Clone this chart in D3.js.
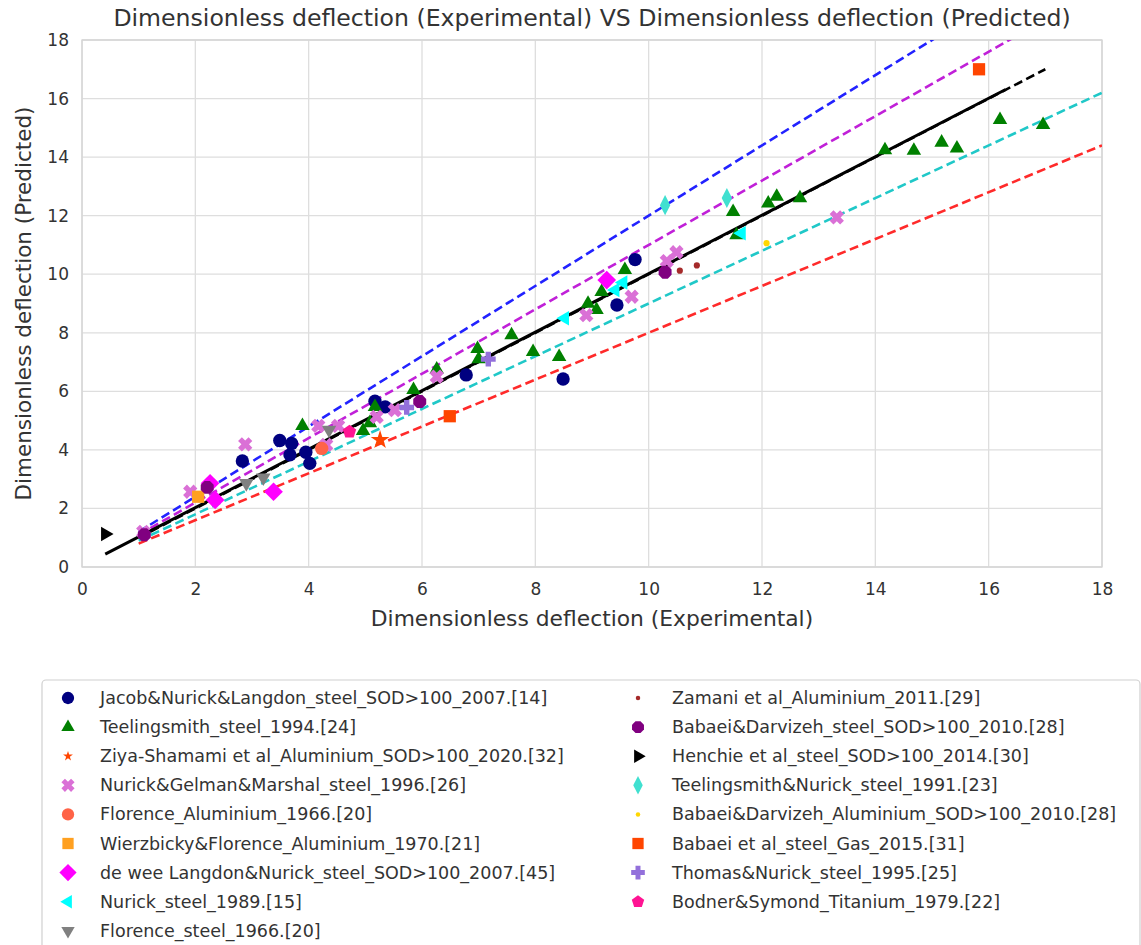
<!DOCTYPE html>
<html>
<head>
<meta charset="utf-8">
<script src="https://cdn.jsdelivr.net/npm/d3@7"></script>
<style>
  body { margin:0; background:#fff; }
  svg text { font-family:"DejaVu Sans", sans-serif; fill:#333; }
</style>
</head>
<body>
<div id="chart"></div>
<script>

// ---- data : [experimental, predicted] ----
var jacob = [[2.83,3.62],[3.49,4.32],[3.70,4.22],[3.67,3.83],[3.95,3.92],[4.02,3.54],
             [5.17,5.66],[5.35,5.47],[6.78,6.56],[8.49,6.42],[9.44,8.95],[9.76,10.5]];
var teeling94 = [[3.89,4.82],[4.96,4.65],[5.08,4.92],[5.17,5.47],[5.85,6.05],[6.26,6.75],
             [6.98,7.45],[7.0,7.1],[7.58,7.92],[7.96,7.35],[8.42,7.18],[8.93,9.0],[9.08,8.78],
             [9.17,9.4],[9.58,10.15],[11.49,12.13],[11.55,11.34],[12.11,12.42],[12.26,12.65],
             [12.67,12.6],[14.17,14.24],[14.68,14.22],[15.17,14.5],[15.44,14.3],[16.2,15.27],[16.96,15.1]];
var ziya = [[5.26,4.34]];
var nurickGelman = [[1.08,1.2],[1.91,2.57],[2.88,4.19],[4.17,4.82],[4.31,4.17],[4.52,4.82],
             [5.2,5.13],[5.52,5.36],[6.26,6.5],[8.9,8.6],[9.7,9.23],[10.32,10.45],[10.49,10.75],[13.32,11.94]];
var florenceAl = [[4.23,4.05]];
var wierzbicky = [[2.05,2.4]];
var deWee = [[2.26,2.86],[2.35,2.29],[3.38,2.57],[9.26,9.8]];
var nurick89 = [[8.52,8.5],[9.41,9.46],[9.55,9.72],[11.64,11.4]];
var florenceSteel = [[2.9,2.86],[3.2,3.05],[4.36,4.68]];
var zamani = [[10.55,10.12],[10.85,10.3]];
var babaeiSteel = [[1.1,1.1],[2.21,2.72],[5.96,5.65],[10.29,10.07]];
var henchie = [[0.41,1.13]];
var teeling91 = [[10.29,12.36],[11.38,12.6]];
var babaeiAl = [[12.08,11.06]];
var babaeiGas = [[6.49,5.15],[15.83,17.0]];
var thomas = [[5.73,5.45],[7.17,7.1]];
var bodner = [[4.72,4.62]];

var seriesNames = [
  "Jacob&Nurick&Langdon_steel_SOD>100_2007.[14]",
  "Teelingsmith_steel_1994.[24]",
  "Ziya-Shamami et al_Aluminium_SOD>100_2020.[32]",
  "Nurick&Gelman&Marshal_steel_1996.[26]",
  "Florence_Aluminium_1966.[20]",
  "Wierzbicky&Florence_Aluminium_1970.[21]",
  "de wee Langdon&Nurick_steel_SOD>100_2007.[45]",
  "Nurick_steel_1989.[15]",
  "Florence_steel_1966.[20]",
  "Zamani et al_Aluminium_2011.[29]",
  "Babaei&Darvizeh_steel_SOD>100_2010.[28]",
  "Henchie et al_steel_SOD>100_2014.[30]",
  "Teelingsmith&Nurick_steel_1991.[23]",
  "Babaei&Darvizeh_Aluminium_SOD>100_2010.[28]",
  "Babaei et al_steel_Gas_2015.[31]",
  "Thomas&Nurick_steel_1995.[25]",
  "Bodner&Symond_Titanium_1979.[22]"
];
var seriesData = [jacob, teeling94, ziya, nurickGelman, florenceAl, wierzbicky, deWee, nurick89,
  florenceSteel, zamani, babaeiSteel, henchie, teeling91, babaeiAl, babaeiGas, thomas, bodner];

// reference lines (end points)
var blueLine    = [[1,1.2],[18,21.6]];
var magentaLine = [[1,1.1],[18,19.8]];
var cyanLine    = [[1,0.9],[18,16.2]];
var redLine     = [[1,0.8],[18,14.4]];
var identLine   = [[1,1],[17,17]];
var fitLine     = [[0.41,0.44],[16.3,16.31]];

var xTicks = [0,2,4,6,8,10,12,14,16,18];
var yTicks = [0,2,4,6,8,10,12,14,16,18];

// ---- styles ----
var styles = [
  {color:"#000080", shape:"circle",  size:140},
  {color:"#008000", shape:"triUp",   size:130},
  {color:"#ff4500", shape:"star",    size:110, lsize:30},
  {color:"#da70d6", shape:"x",       size:130},
  {color:"#ff6347", shape:"circle",  size:140},
  {color:"#ffa020", shape:"square",  size:150},
  {color:"#ff00ff", shape:"diamond", size:150},
  {color:"#00ffff", shape:"triLeft", size:130},
  {color:"#808080", shape:"triDown", size:130},
  {color:"#a52a2a", shape:"circle",  size:30},
  {color:"#800080", shape:"octagon", size:140},
  {color:"#000000", shape:"triRight",size:130},
  {color:"#40e0d0", shape:"thinDiamond", size:150},
  {color:"#ffd700", shape:"circle",  size:30},
  {color:"#ff4500", shape:"square",  size:150},
  {color:"#9370db", shape:"plus",    size:130},
  {color:"#ff1493", shape:"pentagon",size:130}
];

function polygon(n, r, rot){
  var pts = [];
  for (var i=0;i<n;i++){
    var a = rot + i*2*Math.PI/n;
    pts.push([r*Math.cos(a), r*Math.sin(a)]);
  }
  return "M" + pts.map(function(p){return p[0].toFixed(2)+","+p[1].toFixed(2)}).join("L") + "Z";
}

function markerPath(shape, size){
  var r = Math.sqrt(size/Math.PI);
  switch(shape){
    case "circle":  return d3.symbol(d3.symbolCircle, size)();
    case "square":  return d3.symbol(d3.symbolSquare, size)();
    case "star":    return d3.symbol(d3.symbolStar, size)();
    case "diamond": return polygon(4, r*1.35, -Math.PI/2);
    case "thinDiamond": {
      var h = r*1.45, w = r*0.75;
      return "M0,"+(-h)+"L"+w+",0L0,"+h+"L"+(-w)+",0Z";
    }
    case "triUp":   return polygon(3, r*1.3, -Math.PI/2);
    case "triDown": return polygon(3, r*1.3,  Math.PI/2);
    case "triLeft": return polygon(3, r*1.3,  Math.PI);
    case "triRight":return polygon(3, r*1.3,  0);
    case "octagon": return polygon(8, r*1.05, Math.PI/8);
    case "pentagon":return polygon(5, r*1.1, -Math.PI/2);
    case "plus":
    case "x": {
      var a = r*1.15, t = r*0.42;
      var p = "M"+(-t)+","+(-a)+"H"+t+"V"+(-t)+"H"+a+"V"+t+"H"+t+"V"+a+"H"+(-t)+"V"+t+"H"+(-a)+"V"+(-t)+"H"+(-t)+"Z";
      return p;
    }
  }
}

// ---- layout ----
var W = 1141, H = 945;
var margin = {top:40, right:39, bottom:378, left:82};
var width  = W - margin.left - margin.right;
var height = H - margin.top  - margin.bottom;

var svg = d3.select("#chart").append("svg")
  .attr("width", W).attr("height", H);

var x = d3.scaleLinear().domain([0,18]).range([0,width]);
var y = d3.scaleLinear().domain([0,18]).range([height,0]);

var g = svg.append("g").attr("transform","translate("+margin.left+","+margin.top+")");

// grid
g.append("g").selectAll("line").data(xTicks).enter().append("line")
  .attr("x1",function(d){return x(d)}).attr("x2",function(d){return x(d)})
  .attr("y1",0).attr("y2",height)
  .attr("stroke","#dedede").attr("stroke-width",1.3);
g.append("g").selectAll("line").data(yTicks).enter().append("line")
  .attr("y1",function(d){return y(d)}).attr("y2",function(d){return y(d)})
  .attr("x1",0).attr("x2",width)
  .attr("stroke","#dedede").attr("stroke-width",1.3);

// axes (labels only)
var xAxis = g.append("g").attr("transform","translate(0,"+height+")")
  .call(d3.axisBottom(x).tickValues(xTicks).tickSize(0).tickPadding(16));
var yAxis = g.append("g")
  .call(d3.axisLeft(y).tickValues(yTicks).tickSize(0).tickPadding(13));
[xAxis,yAxis].forEach(function(a){
  a.select(".domain").remove();
  a.selectAll("text").style("font-size","17px").attr("fill","#333");
});

// frame
g.append("rect").attr("width",width).attr("height",height)
  .attr("fill","none").attr("stroke","#d4d4d4").attr("stroke-width",1.3);

// clip
svg.append("clipPath").attr("id","clip").append("rect")
  .attr("width",width).attr("height",height);
var plot = g.append("g").attr("clip-path","url(#clip)");

var line = d3.line().x(function(d){return x(d[0])}).y(function(d){return y(d[1])});

[[blueLine,"#2222ff"],[magentaLine,"#c020d8"],[cyanLine,"#20c8c8"],[redLine,"#ff2a2a"],[identLine,"#000"]]
  .forEach(function(l){
    plot.append("path").attr("d",line(l[0]))
      .attr("fill","none").attr("stroke",l[1]).attr("stroke-width",2.6)
      .attr("stroke-dasharray","9,4.5");
  });
plot.append("path").attr("d",line(fitLine))
  .attr("fill","none").attr("stroke","#000").attr("stroke-width",3);

// points
seriesData.forEach(function(data,i){
  var s = styles[i];
  var path = markerPath(s.shape, s.size);
  var rot = s.shape=="x" ? 45 : 0;
  g.append("g").selectAll("path").data(data).enter().append("path")
    .attr("d",path)
    .attr("transform",function(d){return "translate("+x(d[0])+","+y(d[1])+") rotate("+rot+")"})
    .attr("fill",s.color);
});

// title & labels
svg.append("text").attr("x",margin.left+width/2).attr("y",26)
  .attr("text-anchor","middle").style("font-size","23.6px").text(
  "Dimensionless deflection (Experimental) VS Dimensionless deflection (Predicted)");
svg.append("text").attr("x",margin.left+width/2).attr("y",626)
  .attr("text-anchor","middle").style("font-size","21.8px").text("Dimensionless deflection (Experimental)");
svg.append("text").attr("transform","translate(31,"+(margin.top+height/2)+") rotate(-90)")
  .attr("text-anchor","middle").style("font-size","21.5px").text("Dimensionless deflection (Predicted)");

// legend
var legend = svg.append("g");
legend.append("rect").attr("x",42).attr("y",680).attr("width",1098).attr("height",280)
  .attr("rx",4).attr("fill","#fff").attr("stroke","#d0d0d0").attr("stroke-width",1.2);
var rowH = 29.1;
seriesNames.forEach(function(name,i){
  var col = i < 9 ? 0 : 1;
  var row = col==0 ? i : i-9;
  var mx = col==0 ? 68 : 638;
  var tx = col==0 ? 100 : 672;
  var cy = 698 + row*rowH;
  var s = styles[i];
  var lsize = s.lsize || (s.size < 50 ? 16 : s.size*0.85);
  legend.append("path").attr("d",markerPath(s.shape, lsize))
    .attr("transform","translate("+mx+","+cy+") rotate("+(s.shape=="x"?45:0)+")")
    .attr("fill",s.color);
  legend.append("text").attr("x",tx).attr("y",cy+6).style("font-size","17.5px").text(name);
});

</script>
</body>
</html>
